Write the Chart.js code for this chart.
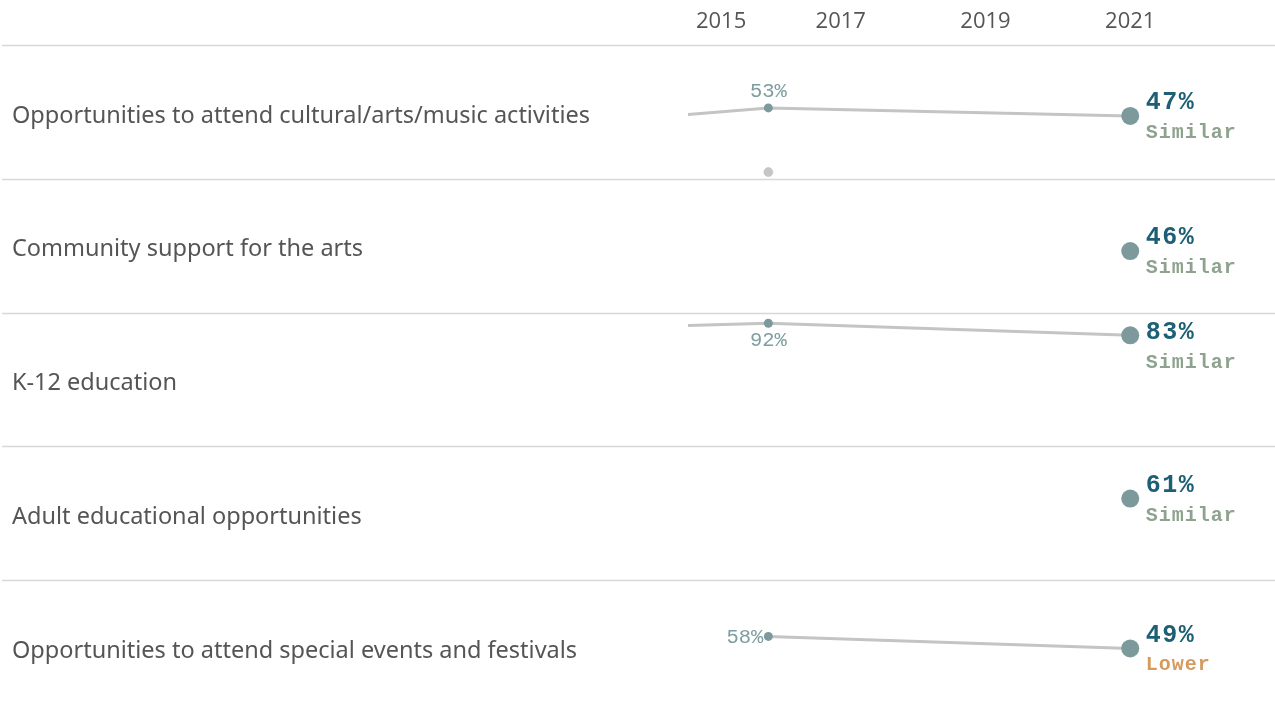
<!DOCTYPE html>
<html>
<head>
<meta charset="utf-8">
<script src="https://cdn.jsdelivr.net/npm/chart.js@4/dist/chart.umd.min.js"></script>
<style>
  html, body { margin: 0; padding: 0; background: #ffffff; }
  #wrap { position: relative; width: 1275px; height: 717px; }
</style>
</head>
<body>
<div id="wrap"><canvas id="c" width="1275" height="717"></canvas></div>
<script>
// ---- data ----
const categories = [
  "Opportunities to attend cultural/arts/music activities",
  "Community support for the arts",
  "K-12 education",
  "Adult educational opportunities",
  "Opportunities to attend special events and festivals"
];
const years = [2014, 2016, 2021];
const values2014 = [44, null, 89, null, null];
const values2016 = [53, null, 92, null, 58];
const values2021 = [47, 46, 83, 61, 49];
const comparison = ["Similar", "Similar", "Similar", "Similar", "Lower"];
const otherValues2016 = [5, null, null, null, null];
const xTickYears = [2015, 2017, 2019, 2021];

// ---- presentation config ----
const smallLabelPlacement = ["above", null, "below", null, "left"];
const rowCount = categories.length;
const rowSpan = 100;
const compColors = { Similar: "#8fa28f", Lower: "#d59a5c", Higher: "#4f8f5f" };

function rowBase(r) { return (rowCount - 1 - r) * rowSpan; }

const seriesByYear = [values2014, values2016, values2021];
const datasets = categories.map((cat, r) => {
  const pts = [];
  years.forEach((yr, i) => {
    const v = seriesByYear[i][r];
    if (v !== null && v !== undefined) pts.push({ x: yr, y: rowBase(r) + v, v: v, yr: yr });
  });
  return {
    label: cat,
    data: pts,
    row: r,
    borderColor: "#c4c4c4",
    borderWidth: 3,
    tension: 0,
    clip: 0,
    pointBackgroundColor: "#7c9a9c",
    pointBorderWidth: 0,
    pointRadius: (ctx) => {
      const p = ctx.raw; if (!p) return 0;
      if (p.yr === 2021) return 9;
      if (p.yr === 2016) return 4.5;
      return 0;
    },
    pointHoverRadius: (ctx) => (ctx.raw && ctx.raw.yr === 2021 ? 9 : 4.5),
    order: 1
  };
});

// grey extra points (drawn as a points-only dataset)
datasets.push({
  label: "other",
  data: otherValues2016.map((v, r) => (v === null ? null : { x: 2016, y: rowBase(r) + v, v: v, yr: 2016 }))
    .filter(p => p !== null),
  showLine: false,
  clip: 0,
  pointBackgroundColor: "#c6c6c6",
  pointBorderColor: "#b8b8b8",
  pointBorderWidth: 0.5,
  pointRadius: 4.5,
  isOther: true,
  order: 2
});

const decor = {
  id: "decor",
  beforeDatasetsDraw(chart) {
    const ctx = chart.ctx;
    const ys = chart.scales.y;
    ctx.save();
    ctx.strokeStyle = "#d8d8d8";
    ctx.lineWidth = 1.5;
    for (let k = 1; k <= rowCount; k++) {
      const py = Math.round(ys.getPixelForValue(k * rowSpan)) + 0.5;
      ctx.beginPath();
      ctx.moveTo(2, py);
      ctx.lineTo(chart.width, py);
      ctx.stroke();
    }
    // category labels
    ctx.fillStyle = "#555555";
    ctx.font = "23.5px 'Noto Sans'";
    ctx.textAlign = "left";
    ctx.textBaseline = "middle";
    categories.forEach((cat, r) => {
      const top = ys.getPixelForValue(rowBase(r) + rowSpan);
      const bot = ys.getPixelForValue(rowBase(r));
      ctx.fillText(cat, 12, (top + bot) / 2 + 4);
    });
    ctx.restore();
  },
  afterDatasetsDraw(chart) {
    const ctx = chart.ctx;
    const ys = chart.scales.y;
    ctx.save();
    chart.data.datasets.forEach((ds, di) => {
      if (ds.isOther) return;
      const meta = chart.getDatasetMeta(di);
      const r = ds.row;
      const bandTop = ys.getPixelForValue(rowBase(r) + rowSpan);
      meta.data.forEach((el, i) => {
        const p = ds.data[i];
        if (p.yr === 2021) {
          let vy = Math.max(el.y - 13, bandTop + 20);
          ctx.textAlign = "left";
          ctx.textBaseline = "middle";
          ctx.fillStyle = "#1d5f74";
          ctx.font = "bold 25px 'Liberation Mono'";
          try { ctx.letterSpacing = "1.5px"; } catch (e) {}
          ctx.fillText(p.v + "%", el.x + 15.5, vy);
          ctx.fillStyle = compColors[comparison[r]] || "#8fa28f";
          ctx.font = "bold 20px 'Liberation Mono'";
          try { ctx.letterSpacing = "1px"; } catch (e) {}
          ctx.fillText(comparison[r], el.x + 15.5, vy + 30);
          try { ctx.letterSpacing = "0px"; } catch (e) {}
        } else if (p.yr === 2016) {
          const place = smallLabelPlacement[r];
          ctx.fillStyle = "#7f9ea0";
          ctx.font = "20.5px 'Liberation Mono'";
          ctx.textBaseline = "middle";
          if (place === "above") { ctx.textAlign = "center"; ctx.fillText(p.v + "%", el.x, el.y - 16); }
          else if (place === "below") { ctx.textAlign = "center"; ctx.fillText(p.v + "%", el.x, el.y + 17); }
          else if (place === "left") { ctx.textAlign = "right"; ctx.fillText(p.v + "%", el.x - 5, el.y + 1); }
        }
      });
    });
    ctx.restore();
  }
};

new Chart(document.getElementById("c"), {
  type: "line",
  data: { datasets: datasets },
  options: {
    responsive: false,
    animation: false,
    devicePixelRatio: 1,
    layout: { autoPadding: false, padding: { left: 688, right: 0, top: 0, bottom: 3 } },
    plugins: { legend: { display: false }, tooltip: { enabled: false } },
    scales: {
      x: {
        type: "linear",
        position: "top",
        min: 2014.89,
        max: 2023,
        border: { display: false },
        grid: { display: false, drawTicks: false },
        afterBuildTicks: (scale) => {
          scale.ticks = xTickYears.concat([2023]).map(v => ({ value: v }));
        },
        afterFit: (scale) => {
          scale.height = 45;
          scale.paddingLeft = 0;
          scale.paddingRight = 0;
        },
        ticks: {
          autoSkip: false,
          maxRotation: 0,
          align: "inner",
          padding: 10,
          color: "#555555",
          font: { family: "'Open Sans'", size: 22 },
          callback: (v) => (xTickYears.includes(v) ? String(v) : "")
        }
      },
      y: {
        type: "linear",
        min: 0,
        max: rowCount * rowSpan,
        display: false
      }
    }
  },
  plugins: [decor]
});
</script>
</body>
</html>
